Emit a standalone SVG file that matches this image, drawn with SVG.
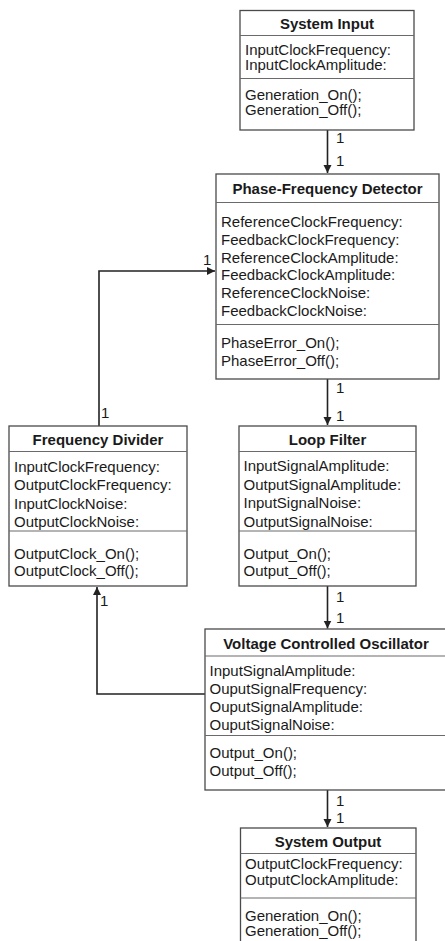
<svg xmlns="http://www.w3.org/2000/svg" width="445" height="941" viewBox="0 0 445 941">
  <style>
    .box { fill: #ffffff; stroke: #4a4a4a; stroke-width: 1.3; }
    .div { stroke: #6a6a6a; stroke-width: 1.2; fill: none; }
    .title { font-family: "Liberation Sans", Arial, sans-serif; font-size: 15px; font-weight: bold; fill: #1a1a1a; text-anchor: middle; }
    .txt { font-family: "Liberation Sans", Arial, sans-serif; font-size: 15px; fill: #1a1a1a; }
    .mult { font-family: "Liberation Sans", Arial, sans-serif; font-size: 15px; fill: #1a1a1a; }
    .edge { stroke: #222222; stroke-width: 1.6; fill: none; }
  </style>
  <defs>
    <marker id="arrow" markerUnits="userSpaceOnUse" markerWidth="9" markerHeight="9" refX="8" refY="4" orient="auto">
      <path d="M0,0 L8,4 L0,8 Z" fill="#222222"/>
    </marker>
  </defs>
  <rect width="445" height="941" fill="#ffffff"/>

  <!-- connectors -->
  <g id="connectors">
    <path class="edge" d="M327.5,130 V173" marker-end="url(#arrow)"/>
    <path class="edge" d="M327.5,379 V425" marker-end="url(#arrow)"/>
    <path class="edge" d="M327.5,586 V628.5" marker-end="url(#arrow)"/>
    <path class="edge" d="M327.5,790 V827" marker-end="url(#arrow)"/>
    <path class="edge" d="M99,426 V271 H215" marker-end="url(#arrow)"/>
    <path class="edge" d="M205,694 H97 V587" marker-end="url(#arrow)"/>
    <text class="mult" x="336" y="143">1</text>
    <text class="mult" x="336" y="166">1</text>
    <text class="mult" x="336" y="393">1</text>
    <text class="mult" x="336" y="421">1</text>
    <text class="mult" x="336" y="602">1</text>
    <text class="mult" x="336" y="623">1</text>
    <text class="mult" x="336" y="806">1</text>
    <text class="mult" x="336" y="823">1</text>
    <text class="mult" x="203" y="265">1</text>
    <text class="mult" x="101" y="418">1</text>
    <text class="mult" x="100" y="606">1</text>
  </g>

  <!-- System Input -->
  <g id="system-input">
    <rect class="box" x="240" y="10.5" width="174" height="119.5"/>
    <line class="div" x1="240" y1="35.5" x2="414" y2="35.5"/>
    <line class="div" x1="240" y1="78.5" x2="414" y2="78.5"/>
    <text class="title" x="327" y="29">System Input</text>
    <text class="txt" x="245" y="55">InputClockFrequency:</text>
    <text class="txt" x="245" y="70">InputClockAmplitude:</text>
    <text class="txt" x="245" y="100">Generation_On();</text>
    <text class="txt" x="245" y="115">Generation_Off();</text>
  </g>

  <!-- Phase-Frequency Detector -->
  <g id="phase-frequency-detector">
    <rect class="box" x="216" y="174" width="223" height="205"/>
    <line class="div" x1="216" y1="202.5" x2="439" y2="202.5"/>
    <line class="div" x1="216" y1="324.5" x2="439" y2="324.5"/>
    <text class="title" x="327.5" y="194">Phase-Frequency Detector</text>
    <text class="txt" x="221" y="227">ReferenceClockFrequency:</text>
    <text class="txt" x="221" y="245">FeedbackClockFrequency:</text>
    <text class="txt" x="221" y="262.5">ReferenceClockAmplitude:</text>
    <text class="txt" x="221" y="280">FeedbackClockAmplitude:</text>
    <text class="txt" x="221" y="298">ReferenceClockNoise:</text>
    <text class="txt" x="221" y="316">FeedbackClockNoise:</text>
    <text class="txt" x="221" y="348">PhaseError_On();</text>
    <text class="txt" x="221" y="365.5">PhaseError_Off();</text>
  </g>

  <!-- Frequency Divider -->
  <g id="frequency-divider">
    <rect class="box" x="9" y="426" width="178" height="160"/>
    <line class="div" x1="9" y1="451.5" x2="187" y2="451.5"/>
    <line class="div" x1="9" y1="531" x2="187" y2="531"/>
    <text class="title" x="98" y="445">Frequency Divider</text>
    <text class="txt" x="14" y="471.5">InputClockFrequency:</text>
    <text class="txt" x="14" y="490">OutputClockFrequency:</text>
    <text class="txt" x="14" y="508.5">InputClockNoise:</text>
    <text class="txt" x="14" y="527">OutputClockNoise:</text>
    <text class="txt" x="14" y="559">OutputClock_On();</text>
    <text class="txt" x="14" y="576">OutputClock_Off();</text>
  </g>

  <!-- Loop Filter -->
  <g id="loop-filter">
    <rect class="box" x="239" y="426" width="177" height="160"/>
    <line class="div" x1="239" y1="451.5" x2="416" y2="451.5"/>
    <line class="div" x1="239" y1="531" x2="416" y2="531"/>
    <text class="title" x="327.5" y="445">Loop Filter</text>
    <text class="txt" x="243.5" y="471">InputSignalAmplitude:</text>
    <text class="txt" x="243.5" y="489.5">OutputSignalAmplitude:</text>
    <text class="txt" x="243.5" y="508">InputSignalNoise:</text>
    <text class="txt" x="243.5" y="526.5">OutputSignalNoise:</text>
    <text class="txt" x="243.5" y="559">Output_On();</text>
    <text class="txt" x="243.5" y="576">Output_Off();</text>
  </g>

  <!-- Voltage Controlled Oscillator -->
  <g id="voltage-controlled-oscillator">
    <rect class="box" x="205" y="629" width="242" height="161"/>
    <line class="div" x1="205" y1="656" x2="447" y2="656"/>
    <line class="div" x1="205" y1="735.5" x2="447" y2="735.5"/>
    <text class="title" x="326" y="649">Voltage Controlled Oscillator</text>
    <text class="txt" x="209.5" y="675.5">InputSignalAmplitude:</text>
    <text class="txt" x="209.5" y="693.5">OuputSignalFrequency:</text>
    <text class="txt" x="209.5" y="711.5">OuputSignalAmplitude:</text>
    <text class="txt" x="209.5" y="729.5">OuputSignalNoise:</text>
    <text class="txt" x="209.5" y="758">Output_On();</text>
    <text class="txt" x="209.5" y="775.5">Output_Off();</text>
  </g>

  <!-- System Output -->
  <g id="system-output">
    <rect class="box" x="240.5" y="828" width="175.5" height="125"/>
    <line class="div" x1="240.5" y1="853.5" x2="416" y2="853.5"/>
    <line class="div" x1="240.5" y1="898" x2="416" y2="898"/>
    <text class="title" x="328" y="847">System Output</text>
    <text class="txt" x="245" y="869">OutputClockFrequency:</text>
    <text class="txt" x="245" y="884.5">OutputClockAmplitude:</text>
    <text class="txt" x="245" y="920.5">Generation_On();</text>
    <text class="txt" x="245" y="936">Generation_Off();</text>
  </g>
</svg>
